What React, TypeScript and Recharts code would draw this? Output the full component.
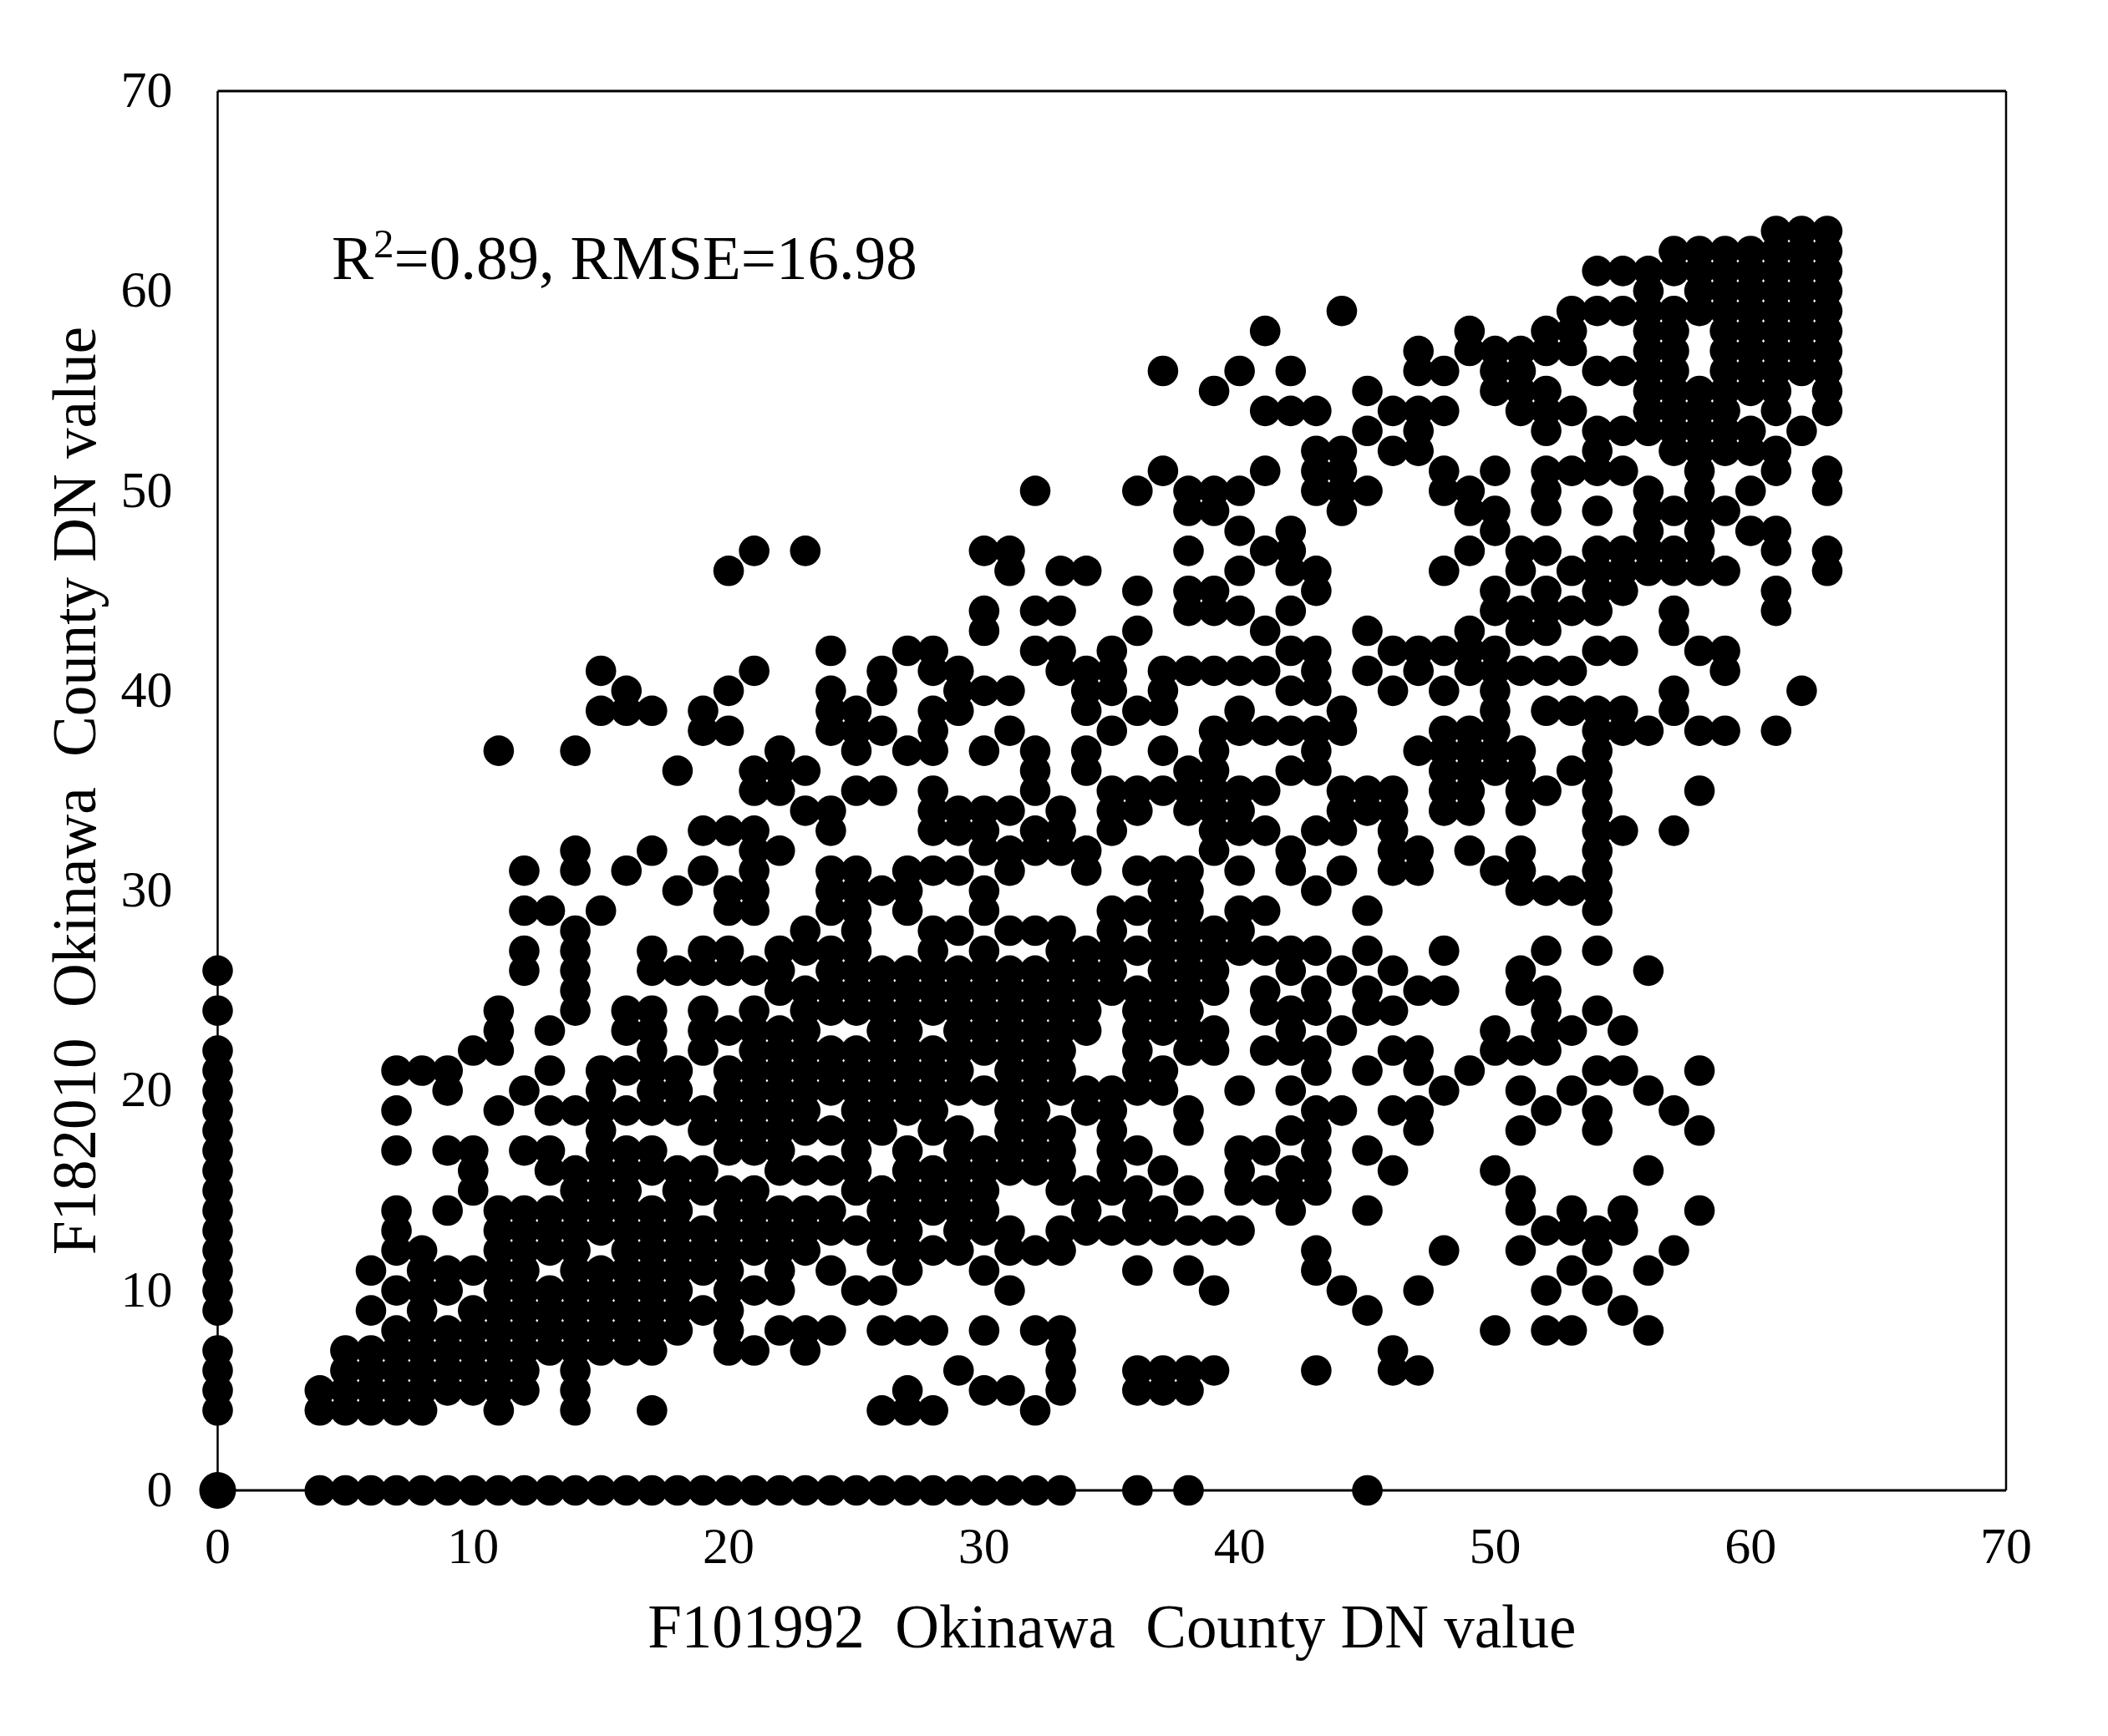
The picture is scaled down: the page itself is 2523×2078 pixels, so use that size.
import React from 'react';
import { ScatterChart, Scatter, XAxis, YAxis, ReferenceLine, Customized } from 'recharts';

const axisTicks = [0, 10, 20, 30, 40, 50, 60, 70];
const xLabel = 'F101992\u00A0\u00A0Okinawa\u00A0\u00A0County\u00A0DN value';
const yLabel = 'F182010\u00A0\u00A0Okinawa\u00A0\u00A0County\u00A0DN value';

const originPoint = [{ x: 0, y: 0 }];

const x0 = [0,4,5,6,7,9,10,11,12,13,14,15,16,17,18,19,20,21,22,24,26];
const x4 = [0,4,5];
const x5 = [0,4,5,6,7];
const x6 = [0,4,5,6,7,9,11];
const x7 = [0,4,5,6,7,8,10,12,13,14,17,19,21];
const x8 = [0,4,5,6,7,8,9,10,11,12,21];
const x9 = [0,5,6,7,8,10,11,14,17,20,21];
const x10 = [0,5,6,7,8,9,11,15,16,17,22];
const x11 = [0,4,5,6,7,8,9,10,11,12,13,14,19,22,23,24,37];
const x12 = [0,5,6,7,8,9,10,11,12,13,14,17,20,26,27,29,31];
const x13 = [0,7,8,9,10,12,13,14,16,17,19,21,23,29];
const x14 = [0,4,5,6,7,8,9,10,11,12,13,14,15,16,19,24,25,26,27,28,31,32,37];
const x15 = [0,7,8,9,10,11,13,14,15,16,17,18,19,20,21,29,39,41];
const x16 = [0,7,8,9,10,11,12,13,14,15,16,17,19,21,23,24,31,39,40];
const x17 = [0,4,7,8,9,10,11,12,13,14,16,17,19,20,21,22,23,24,26,27,32,39];
const x18 = [0,8,9,10,11,12,13,14,15,16,19,20,21,26,30,36];
const x19 = [0,9,11,12,13,15,16,18,19,22,23,24,26,27,31,33,38,39];
const x20 = [0,7,8,9,10,11,12,13,14,15,17,18,19,20,21,23,26,27,29,30,33,38,40,46];
const x21 = [0,7,10,12,13,14,15,17,18,19,20,21,22,23,24,26,29,30,31,32,33,35,36,41,47];
const x22 = [0,8,10,11,12,13,14,16,17,18,19,20,21,22,23,25,26,27,32,35,36,37];
const x23 = [0,7,8,12,13,14,16,18,19,20,21,22,23,24,25,27,28,34,36,47];
const x24 = [0,8,11,13,14,16,18,20,21,22,24,25,26,27,29,30,31,33,34,38,39,40,42];
const x25 = [0,10,13,15,16,17,18,19,20,21,22,24,25,26,27,28,29,30,31,35,37,38,39];
const x26 = [0,4,8,10,12,13,14,15,18,19,20,21,22,23,24,25,26,30,35,38,40,41];
const x27 = [0,4,5,8,11,12,13,14,15,16,17,19,20,21,22,23,24,25,26,29,30,31,37,42];
const x28 = [0,4,8,12,14,15,16,18,19,20,21,22,24,25,26,27,28,31,33,34,35,37,38,39,41,42];
const x29 = [0,6,12,13,14,15,16,17,18,20,21,22,23,24,25,26,28,31,33,34,39,40,41];
const x30 = [0,5,8,11,13,14,15,16,17,20,22,23,24,25,26,27,29,30,32,33,34,37,40,43,44,47];
const x31 = [0,5,10,12,13,16,17,18,19,20,21,22,23,24,25,26,28,31,32,34,38,40,46,47];
const x32 = [0,4,8,12,16,17,18,19,20,21,22,23,24,25,26,28,32,33,35,36,37,42,44,50];
const x33 = [0,5,6,7,8,12,13,15,16,17,18,20,21,22,23,24,25,26,27,28,32,33,34,41,42,44,46];
const x34 = [13,14,15,19,20,23,24,25,26,27,31,32,36,37,39,40,41,46];
const x35 = [13,15,16,17,18,19,20,25,26,27,28,29,33,34,35,38,40,41,42];
const x36 = [0,5,6,11,13,14,15,17,20,21,22,23,24,25,27,29,31,34,35,39,43,45,50];
const x37 = [5,6,13,14,16,20,21,23,24,25,26,27,28,29,30,31,35,37,39,40,41,51,56];
const x38 = [0,5,6,11,13,15,18,19,22,23,24,25,26,27,28,29,30,31,34,35,36,41,44,45,47,49,50];
const x39 = [6,10,13,22,23,25,26,27,28,32,33,34,35,36,37,38,41,44,45,49,50,55];
const x40 = [13,15,16,17,20,27,28,29,31,33,34,35,38,39,41,44,46,48,50,56];
const x41 = [15,17,22,24,25,27,29,33,35,38,41,43,47,51,54,58];
const x42 = [14,15,16,18,20,22,23,24,26,27,31,32,36,38,40,42,44,46,47,48,54,56];
const x43 = [6,11,12,15,16,17,18,19,21,22,24,25,27,30,33,36,37,38,40,41,42,45,46,50,51,52,54];
const x44 = [10,19,23,26,31,33,34,35,38,39,49,50,51,52,59];
const x45 = [0,9,14,17,21,24,25,27,29,34,35,41,43,50,53,55];
const x46 = [6,7,16,19,22,24,26,31,32,33,34,35,40,42,52,54];
const x47 = [6,10,18,19,21,22,25,31,32,37,41,42,52,53,54,56,57];
const x48 = [12,20,25,27,34,35,36,37,38,40,42,46,50,51,54,56];
const x49 = [21,32,34,35,36,37,38,41,42,43,47,49,50,57,58];
const x50 = [8,16,22,23,31,36,37,38,39,40,41,42,44,45,48,49,51,55,56,57];
const x51 = [12,14,15,18,20,22,25,26,30,31,32,34,35,36,37,41,43,44,46,47,54,55,56,57];
const x52 = [8,10,13,19,22,23,24,25,27,30,35,39,41,43,44,45,47,49,50,51,53,54,55,57,58];
const x53 = [8,11,13,14,20,23,30,36,39,41,44,46,51,54,57,58,59];
const x54 = [10,12,13,18,19,21,24,27,29,30,31,32,33,34,35,36,37,38,39,42,44,45,46,47,49,51,52,53,56,59,61];
const x55 = [9,13,14,21,23,33,38,39,42,45,46,47,51,53,56,59,61];
const x56 = [8,11,16,20,26,38,46,47,48,49,50,53,54,55,56,57,58,59,60,61];
const x57 = [12,19,33,39,40,43,44,46,47,49,52,53,54,55,56,57,58,59,61,62];
const x58 = [14,18,21,35,38,42,46,47,48,49,50,51,52,53,54,55,59,60,61,62];
const x59 = [38,41,42,46,49,52,53,54,55,56,57,58,59,60,61,62];
const x60 = [48,50,52,53,55,56,57,58,59,60,61,62];
const x61 = [38,44,45,47,48,51,52,54,55,56,57,58,59,60,61,62,63];
const x62 = [40,53,56,57,58,59,60,61,62,63];
const x63 = [46,47,50,51,54,55,56,57,58,59,60,61,62,63];

const columns: [number, number[]][] = [
  [0,x0],[4,x4],[5,x5],[6,x6],[7,x7],[8,x8],[9,x9],[10,x10],[11,x11],[12,x12],[13,x13],[14,x14],[15,x15],
  [16,x16],[17,x17],[18,x18],[19,x19],[20,x20],[21,x21],[22,x22],[23,x23],[24,x24],[25,x25],[26,x26],[27,x27],
  [28,x28],[29,x29],[30,x30],[31,x31],[32,x32],[33,x33],[34,x34],[35,x35],[36,x36],[37,x37],[38,x38],[39,x39],
  [40,x40],[41,x41],[42,x42],[43,x43],[44,x44],[45,x45],[46,x46],[47,x47],[48,x48],[49,x49],[50,x50],[51,x51],
  [52,x52],[53,x53],[54,x54],[55,x55],[56,x56],[57,x57],[58,x58],[59,x59],[60,x60],[61,x61],[62,x62],[63,x63],
];
const points = columns.flatMap(([x, ys]) => ys.map((y) => ({ x, y })));

const FONT = '"Liberation Serif", serif';
const dot = (r: number) => (p: any) => <circle cx={p.cx} cy={p.cy} r={r} fill="#000" />;

const Annotation = () => (
  <text x={397} y={334} fontFamily={FONT} fontSize={75} fill="#000">
    R<tspan dy={-26} fontSize={49}>2</tspan><tspan dy={26}>=0.89, RMSE=16.98</tspan>
  </text>
);

export default function App() {
  const tick = { fontFamily: FONT, fontSize: 62, fill: '#000' };
  return (
    <div style={{ position: 'absolute', left: 0, top: 0, width: 2523, height: 2078, background: '#fff' }}>
      <ScatterChart width={2523} height={2078} margin={{ top: 109, right: 122, bottom: 194, left: 160 }}>
        <XAxis
          type="number"
          dataKey="x"
          domain={[0, 70]}
          ticks={axisTicks}
          interval={0}
          height={100}
          tickLine={false}
          tickSize={0}
          tickMargin={43}
          tick={tick}
          axisLine={{ stroke: '#000', strokeWidth: 3 }}
          label={{ value: xLabel, position: 'bottom', offset: 36, style: { fontFamily: FONT, fontSize: 73, fill: '#000' } }}
        />
        <YAxis
          type="number"
          dataKey="y"
          domain={[0, 70]}
          ticks={axisTicks}
          interval={0}
          width={100.5}
          tickLine={false}
          tickSize={0}
          tickMargin={54}
          tick={{ ...tick, dy: -3 }}
          axisLine={{ stroke: '#000', strokeWidth: 2.5 }}
          label={{ value: yLabel, angle: -90, position: 'left', offset: 72, style: { fontFamily: FONT, fontSize: 73, fill: '#000', textAnchor: 'middle' } }}
        />
        <ReferenceLine x={70} stroke="#000" strokeWidth={2.5} />
        <ReferenceLine y={70} stroke="#000" strokeWidth={3} />
        <Scatter data={points} isAnimationActive={false} shape={dot(18.3)} />
        <Scatter data={originPoint} isAnimationActive={false} shape={dot(22)} />
        <Customized component={Annotation} />
      </ScatterChart>
    </div>
  );
}
